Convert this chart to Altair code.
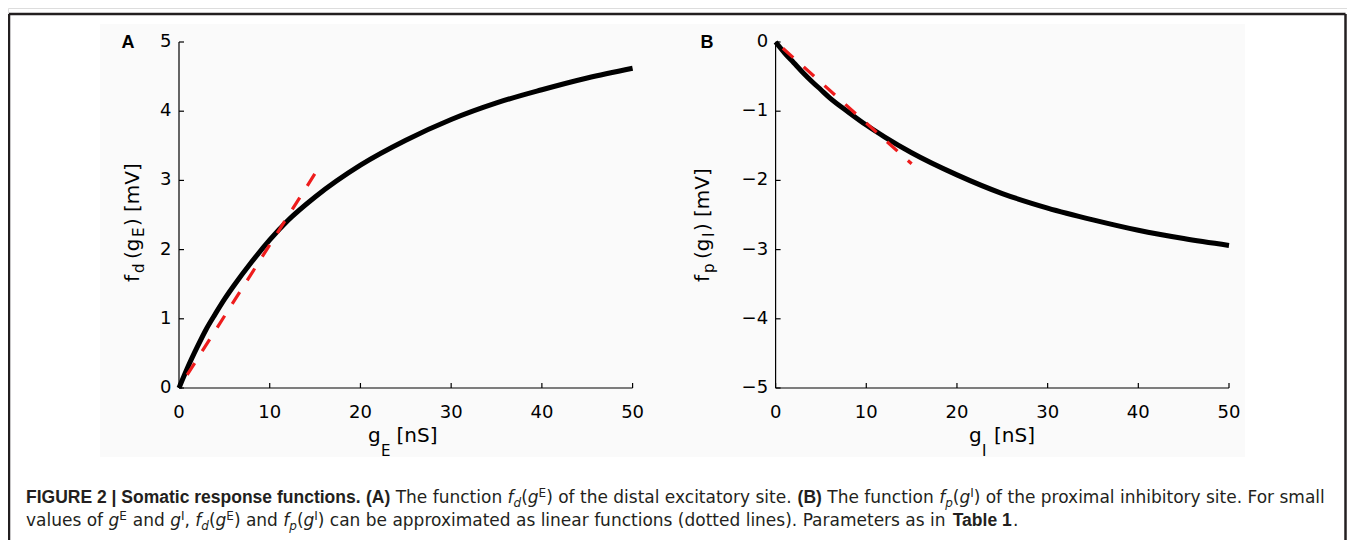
import altair as alt
import pandas as pd

# ---------------- data ----------------
g_E = [0, 1, 2, 3, 4, 5, 6, 8, 10, 12, 15, 20, 25, 30, 35, 40, 45, 50]
f_d = [0, 0.31, 0.59, 0.85, 1.07, 1.28, 1.47, 1.82, 2.14, 2.42, 2.76, 3.22, 3.58, 3.88, 4.12, 4.31, 4.48, 4.62]
g_E_lin = [0.9, 15]
f_d_lin = [0.19, 3.10]

g_I = [0, 1, 2, 3, 4, 5, 6, 8, 10, 12, 15, 20, 25, 30, 35, 40, 45, 50]
f_p = [0, -0.16, -0.30, -0.44, -0.57, -0.69, -0.81, -1.01, -1.20, -1.37, -1.60, -1.92, -2.19, -2.40, -2.57, -2.72, -2.84, -2.94]
g_I_lin = [0.8, 15]
f_p_lin = [-0.09, -1.76]

x_ticks = [0, 10, 20, 30, 40, 50]
x_labels = ["0", "10", "20", "30", "40", "50"]
yA_ticks = [0, 1, 2, 3, 4, 5]
yA_labels = ["0", "1", "2", "3", "4", "5"]
yB_ticks = [0, -1, -2, -3, -4, -5]
yB_labels = ["0", "\u22121", "\u22122", "\u22123", "\u22124", "\u22125"]

# ---------------- layout ----------------
W, H = 1339, 532
OX, OY = 8, 8          # page offset of chart origin
FONT = "DejaVu Sans"
BOLD = "Liberation Sans"


def px(v):
    return v - OX


def py(v):
    return v - OY


Y_TOP, Y_BOT = py(42), py(388)
A_X = [px(179), px(632.6)]
B_X = [px(775.6), px(1229)]


def panel(gx, gy, lx, ly, xr, ydom, yticks, ylabels):
    df = pd.DataFrame({"g": gx, "f": gy})
    dl = pd.DataFrame({"g": lx, "f": ly})
    sx = alt.Scale(domain=[0, 50], range=xr, nice=False, zero=False)
    sy = alt.Scale(domain=ydom, range=[Y_BOT, Y_TOP], nice=False, zero=False)
    X = lambda f: alt.X(f, scale=sx, axis=None)
    Y = lambda f: alt.Y(f, scale=sy, axis=None)
    curve = alt.Chart(df).mark_line(color="black", strokeWidth=5, interpolate="monotone").encode(
        x=X("g:Q"), y=Y("f:Q"))
    lin = alt.Chart(dl).mark_line(color="#ee1c1c", strokeWidth=3.2, strokeDash=[14, 14]).encode(
        x=X("g:Q"), y=Y("f:Q"))
    dx = pd.DataFrame({"t": x_ticks, "lab": x_labels})
    dy = pd.DataFrame({"t": yticks, "lab": ylabels})
    xdom = alt.Chart(pd.DataFrame({"a": [x_ticks[0]], "b": [x_ticks[-1]]})).mark_rule(
        color="black", strokeWidth=1.2).encode(x=X("a:Q"), x2="b:Q", y=alt.value(Y_BOT))
    ydomr = alt.Chart(pd.DataFrame({"a": [min(yticks)], "b": [max(yticks)]})).mark_rule(
        color="black", strokeWidth=1.2).encode(y=Y("a:Q"), y2="b:Q", x=alt.value(xr[0]))
    xt = alt.Chart(dx).mark_rule(color="black", strokeWidth=1.2).encode(
        x=X("t:Q"), y=alt.value(Y_BOT), y2=alt.value(Y_BOT - 5))
    yt = alt.Chart(dy).mark_rule(color="black", strokeWidth=1.2).encode(
        y=Y("t:Q"), x=alt.value(xr[0]), x2=alt.value(xr[0] + 5))
    xl = alt.Chart(dx).mark_text(font=FONT, fontSize=18, color="black", align="center",
                                 baseline="alphabetic").encode(
        x=X("t:Q"), y=alt.value(py(418)), text="lab:N")
    yl = alt.Chart(dy).mark_text(font=FONT, fontSize=18, color="black", align="right",
                                 baseline="middle").encode(
        y=Y("t:Q"), x=alt.value(xr[0] - 7.5), text="lab:N")
    return alt.layer(curve, lin, xdom, ydomr, xt, yt, xl, yl)


panelA = panel(g_E, f_d, g_E_lin, f_d_lin, A_X, [0, 5], yA_ticks, yA_labels)
panelB = panel(g_I, f_p, g_I_lin, f_p_lin, B_X, [-5, 0], yB_ticks, yB_labels)


def txt(s, x, y, size=18, weight="normal", style="normal", angle=0, font=FONT, color="black"):
    kw = dict(font=font, fontSize=size, fontWeight=weight, fontStyle=style,
              align="left", baseline="alphabetic", color=color)
    if angle:
        kw["angle"] = angle
    return alt.Chart(pd.DataFrame({"t": [s]})).mark_text(**kw).encode(
        x=alt.value(px(x)), y=alt.value(py(y)), text="t:N")


layers = []
fr = pd.DataFrame({"t": [0]})
# faint grey background of the figure graphic
layers.append(alt.Chart(fr).mark_rect(color="#fafafa").encode(
    x=alt.value(px(100)), x2=alt.value(px(1245)), y=alt.value(py(24)), y2=alt.value(py(457))))
# frame (top, left, right)
layers.append(alt.Chart(fr).mark_rule(color="#231f20", strokeWidth=2.5).encode(
    x=alt.value(px(9)), x2=alt.value(W - 1.5), y=alt.value(py(14)), y2=alt.value(py(14))))
layers.append(alt.Chart(fr).mark_rule(color="#231f20", strokeWidth=2.5).encode(
    x=alt.value(px(9)), x2=alt.value(px(9)), y=alt.value(py(14)), y2=alt.value(H)))
layers.append(alt.Chart(fr).mark_rule(color="#231f20", strokeWidth=2.5).encode(
    x=alt.value(W - 1.5), x2=alt.value(W - 1.5), y=alt.value(py(14)), y2=alt.value(H)))

layers += [panelA, panelB]

# panel letters
layers.append(txt("A", 121.5, 48, size=18, weight="bold", font=BOLD))
layers.append(txt("B", 700.5, 48, size=18, weight="bold", font=BOLD))

MS, SB = 20, 15
# y-axis titles (rotated pieces, reading bottom to top)
for s, y, sub in [("f", 282, False), ("d", 273, True), ("(g", 259, False), ("E", 237, True),
                  (")", 226, False), ("[mV]", 212, False)]:
    layers.append(txt(s, 144 if sub else 139, y, size=SB if sub else MS, angle=270))
for s, y, sub in [("f", 282, False), ("p", 273, True), ("(g", 259, False), ("I", 237, True),
                  (")", 231, False), ("[mV]", 217, False)]:
    layers.append(txt(s, 714 if sub else 709, y, size=SB if sub else MS, angle=270))

# x-axis titles
for s, x, sub in [("g", 368, False), ("E", 381, True), ("[nS]", 396.5, False)]:
    layers.append(txt(s, x, 456 if sub else 442, size=SB if sub else MS))
for s, x, sub in [("g", 969, False), ("I", 982, True), ("[nS]", 994, False)]:
    layers.append(txt(s, x, 456 if sub else 442, size=SB if sub else MS))

# caption (mixed styles)
CS, SS, BS = 17, 12, 17.5
L1, L2 = 503, 526
cap = [
    ("FIGURE 2 | Somatic response functions.", 26, L1, "b"),
    ("(A)", 366, L1, "b"),
    ("The function", 395.7, L1, "r"),
    ("f", 507.6, L1, "i"), ("d", 513.6, L1, "sub"), ("(", 521.2, L1, "r"), ("g", 527.8, L1, "i"),
    ("E", 538.6, L1, "sup"), (")", 546.2, L1, "r"),
    ("of the distal excitatory site.", 558.2, L1, "r"),
    ("(B)", 797.6, L1, "b"),
    ("The function", 827.3, L1, "r"),
    ("f", 939.2, L1, "i"), ("p", 945.2, L1, "sub"), ("(", 952.8, L1, "r"), ("g", 959.4, L1, "i"),
    ("I", 970.2, L1, "sup"), (")", 973.7, L1, "r"),
    ("of the proximal inhibitory site. For small", 985.7, L1, "r"),
    ("values of", 26, L2, "r"),
    ("g", 108.5, L2, "i"), ("E", 119.3, L2, "sup"),
    ("and", 132.8, L2, "r"),
    ("g", 170.2, L2, "i"), ("I", 181, L2, "sup"), (",", 184.5, L2, "r"),
    ("f", 195.3, L2, "i"), ("d", 201.3, L2, "sub"), ("(", 208.9, L2, "r"), ("g", 215.5, L2, "i"),
    ("E", 226.3, L2, "sup"), (")", 233.9, L2, "r"),
    ("and", 245.9, L2, "r"),
    ("f", 283.3, L2, "i"), ("p", 289.3, L2, "sub"), ("(", 296.9, L2, "r"), ("g", 303.5, L2, "i"),
    ("I", 314.3, L2, "sup"), (")", 317.8, L2, "r"),
    ("can be approximated as linear functions (dotted lines). Parameters as in", 329.8, L2, "r"),
    ("Table 1", 952.7, L2, "b"),
    (".", 1013, L2, "r"),
]
for s, x, y, st in cap:
    if st == "b":
        layers.append(txt(s, x, y, size=BS, weight="bold", font=BOLD, color="#231f20"))
    elif st == "i":
        layers.append(txt(s, x, y, size=CS, style="italic", color="#231f20"))
    elif st == "sub":
        layers.append(txt(s, x, y + 4, size=SS, style="italic", color="#231f20"))
    elif st == "sup":
        layers.append(txt(s, x, y - 6.5, size=SS, color="#231f20"))
    else:
        layers.append(txt(s, x, y, size=CS, color="#231f20"))

chart = alt.layer(*layers).resolve_scale(x="independent", y="independent").properties(
    width=W, height=H, padding=0, autosize=alt.AutoSizeParams(type="none")
).configure_view(stroke=None).configure(background="white")

chart.save("out.html", embed_options={"renderer": "svg", "actions": False})
